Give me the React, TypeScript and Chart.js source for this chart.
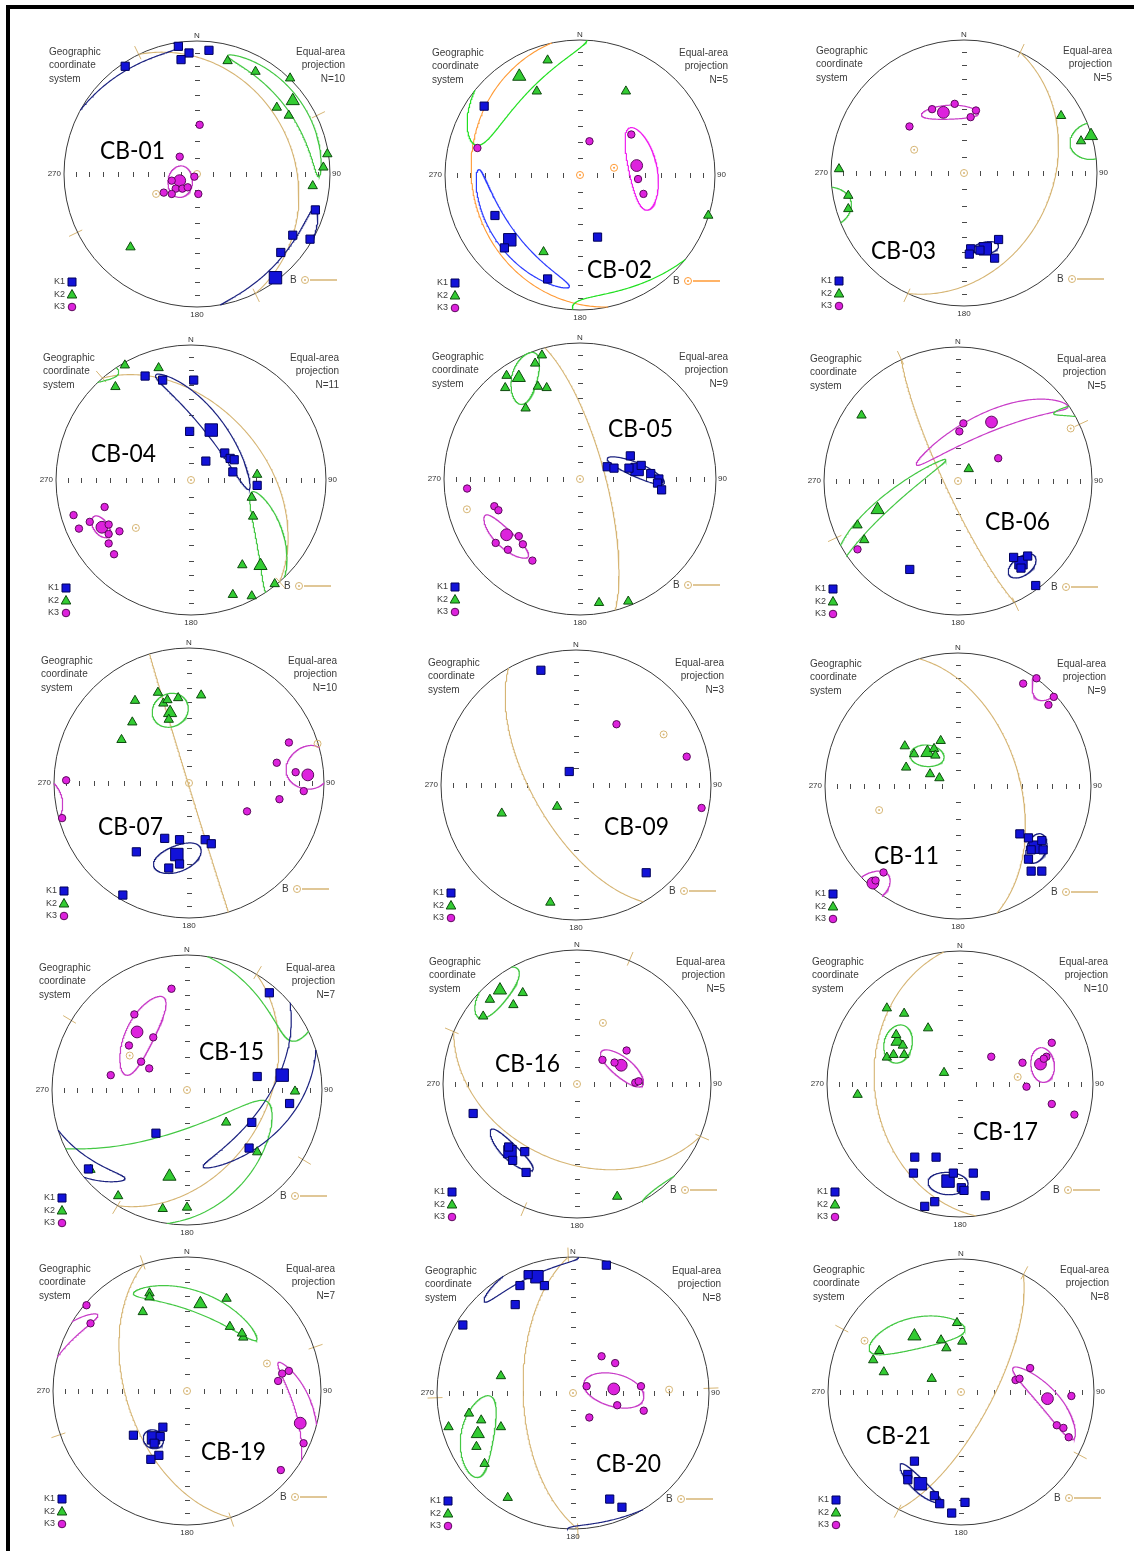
import React, { useEffect, useRef } from "react";
import { Chart, registerables } from "chart.js";
Chart.register(...registerables);

type P = [number, number];
type E = [number, number, number, number, number] | null; // end A (x,y), end B (x,y), minor semi-angle (deg)

// ---------- data (equal-area projection coordinates, x = East, y = North, radius 1) ----------
const CB01_K1: P[] = [[-0.14,0.96],[0.09,0.93],[-0.06,0.91],[-0.12,0.86],[-0.54,0.81],[0.89,-0.27],[0.72,-0.46],[0.85,-0.49],[0.63,-0.59]];
const CB01_K2: P[] = [[0.23,0.85],[0.44,0.77],[0.70,0.72],[0.60,0.50],[0.69,0.44],[0.98,0.15],[0.95,0.05],[0.87,-0.09],[-0.50,-0.55]];
const CB01_K3: P[] = [[0.02,0.37],[-0.13,0.13],[-0.19,-0.05],[-0.02,-0.02],[-0.16,-0.11],[-0.11,-0.11],[-0.07,-0.10],[-0.25,-0.14],[-0.19,-0.15],[0.01,-0.15]];
const CB01_MEAN: P[] = [[0.59,-0.78],[0.72,0.55],[-0.13,-0.05]];
const CB01_ELL: E[] = [[0.89,-0.25,0.143,-1.02,8],[0.23,0.89,0.915,-0.02,6],[-0.11,0.06,-0.14,-0.175,7.5]];
const CB01_PLANE: P = [64, 28];

const CB02_K1: P[] = [[-0.71,0.51],[-0.63,-0.30],[-0.56,-0.54],[-0.24,-0.77],[0.13,-0.46]];
const CB02_K2: P[] = [[-0.24,0.85],[-0.32,0.62],[0.34,0.62],[-0.27,-0.57],[0.95,-0.30]];
const CB02_K3: P[] = [[-0.76,0.20],[0.07,0.25],[0.38,0.30],[0.43,-0.03],[0.47,-0.14]];
const CB02_MEAN: P[] = [[-0.52,-0.48],[-0.45,0.73],[0.42,0.07]];
const CB02_ELL: E[] = [[-0.75,0.04,-0.08,-0.83,7],[-0.76,0.22,0.05,1.04,17],[0.37,0.35,0.50,-0.26,9]];
const CB02_PLANE: P = [258, 21];

const CB03_K1: P[] = [[0.05,-0.57],[0.04,-0.61],[0.12,-0.58],[0.26,-0.50],[0.23,-0.64]];
const CB03_K2: P[] = [[0.73,0.43],[0.88,0.24],[-0.94,0.03],[-0.87,-0.17],[-0.87,-0.27]];
const CB03_K3: P[] = [[-0.24,0.48],[-0.07,0.52],[0.09,0.47],[0.05,0.42],[-0.41,0.35]];
const CB03_MEAN: P[] = [[0.16,-0.57],[0.955,0.28],[-0.155,0.456]];
const CB03_ELL: E[] = [[0.07,-0.575,0.26,-0.545,4],[0.80,0.20,1.077,0.27,8],[-0.32,0.436,0.11,0.449,4.5]];
const CB03_PLANE: P = [115, 34];

const CB04_K1: P[] = [[-0.34,0.77],[-0.21,0.74],[0.02,0.74],[-0.01,0.36],[0.25,0.20],[0.29,0.16],[0.32,0.15],[0.11,0.14],[0.31,0.06],[0.49,-0.04]];
const CB04_K2: P[] = [[-0.49,0.85],[-0.24,0.83],[-0.56,0.69],[0.49,0.04],[0.45,-0.13],[0.46,-0.27],[0.38,-0.63],[0.62,-0.77],[0.31,-0.85],[0.45,-0.86]];
const CB04_K3: P[] = [[-0.64,-0.20],[-0.87,-0.26],[-0.75,-0.31],[-0.61,-0.33],[-0.83,-0.36],[-0.53,-0.38],[-0.61,-0.40],[-0.61,-0.47],[-0.57,-0.55]];
const CB04_MEAN: P[] = [[0.15,0.37],[0.515,-0.635],[-0.66,-0.35]];
const CB04_ELL: E[] = [[-0.26,0.78,0.43,-0.07,6],[0.45,-0.09,0.60,-0.86,8],[-0.73,-0.28,-0.60,-0.41,5]];
const CB04_PLANE: P = [49, 45];

const CB05_K1: P[] = [[0.37,0.17],[0.20,0.09],[0.25,0.08],[0.36,0.08],[0.45,0.10],[0.52,0.04],[0.58,0.0],[0.57,-0.03],[0.60,-0.08]];
const CB05_K2: P[] = [[-0.28,0.91],[-0.33,0.85],[-0.54,0.76],[-0.31,0.68],[-0.245,0.67],[-0.55,0.67],[-0.40,0.52],[0.14,-0.91],[0.355,-0.90]];
const CB05_K3: P[] = [[-0.83,-0.07],[-0.63,-0.20],[-0.60,-0.23],[-0.45,-0.42],[-0.62,-0.47],[-0.42,-0.48],[-0.53,-0.52],[-0.35,-0.60]];
const CB05_MEAN: P[] = [[0.42,0.07],[-0.45,0.745],[-0.54,-0.41]];
const CB05_ELL: E[] = [[0.20,0.15,0.62,-0.03,4],[-0.36,0.93,-0.42,0.55,7],[-0.70,-0.27,-0.38,-0.57,6]];
const CB05_PLANE: P = [75, 75];

const CB06_K1: P[] = [[0.415,-0.57],[0.52,-0.56],[0.47,-0.65],[-0.36,-0.66],[0.58,-0.78]];
const CB06_K2: P[] = [[-0.72,0.49],[0.08,0.09],[-0.75,-0.33],[-0.70,-0.44]];
const CB06_K3: P[] = [[0.04,0.43],[0.01,0.37],[0.30,0.17],[-0.75,-0.51]];
const CB06_MEAN: P[] = [[0.47,-0.61],[-0.60,-0.215],[0.25,0.44]];
const CB06_ELL: E[] = [[0.44,-0.58,0.52,-0.69,8],[-0.09,0.16,-0.91,-0.64,4],[-0.31,0.12,0.82,0.56,6]];
const CB06_PLANE: P = [245, 82];

const CB07_K1: P[] = [[-0.18,-0.41],[-0.07,-0.42],[0.12,-0.42],[0.165,-0.45],[-0.39,-0.51],[-0.07,-0.60],[-0.15,-0.63],[-0.49,-0.83]];
const CB07_K2: P[] = [[-0.23,0.67],[-0.40,0.61],[-0.08,0.63],[0.09,0.65],[-0.19,0.59],[-0.16,0.615],[-0.15,0.47],[-0.42,0.45],[-0.50,0.32]];
const CB07_K3: P[] = [[0.74,0.30],[0.65,0.15],[0.79,0.08],[0.85,-0.06],[0.67,-0.12],[0.43,-0.21],[-0.91,0.02],[-0.94,-0.26]];
const CB07_MEAN: P[] = [[-0.09,-0.53],[-0.14,0.52],[0.88,0.06]];
const CB07_ELL: E[] = [[0.08,-0.47,-0.255,-0.63,8],[-0.27,0.55,-0.01,0.52,11],[0.72,0.08,1.04,0.15,10]];
const CB07_PLANE: P = [253, 89.5];

const CB09_K1: P[] = [[-0.26,0.85],[-0.05,0.10],[0.52,-0.65]];
const CB09_K2: P[] = [[-0.14,-0.16],[-0.55,-0.21],[-0.19,-0.87]];
const CB09_K3: P[] = [[0.30,0.45],[0.82,0.21],[0.93,-0.17]];
const CB09_MEAN: P[] = [];
const CB09_ELL: E[] = [null, null, null];
const CB09_PLANE: P = [240, 64];

const CB11_K1: P[] = [[0.465,-0.36],[0.53,-0.39],[0.63,-0.41],[0.55,-0.48],[0.64,-0.48],[0.53,-0.55],[0.55,-0.64],[0.63,-0.64]];
const CB11_K2: P[] = [[-0.40,0.30],[-0.33,0.24],[-0.13,0.34],[-0.18,0.28],[-0.17,0.23],[-0.39,0.14],[-0.21,0.09],[-0.14,0.06]];
const CB11_K3: P[] = [[0.49,0.77],[0.59,0.81],[0.72,0.67],[0.68,0.61],[-0.56,-0.65],[-0.62,-0.71]];
const CB11_MEAN: P[] = [[0.58,-0.46],[-0.23,0.25],[-0.64,-0.73]];
const CB11_ELL: E[] = [[0.60,-0.36,0.57,-0.58,6.5],[-0.36,0.24,-0.105,0.21,6.5],[-0.53,-0.66,-0.74,-0.82,6]];
const CB11_PLANE: P = [73, 52];

const CB15_K1: P[] = [[0.61,0.72],[0.52,0.10],[0.76,-0.10],[0.48,-0.24],[-0.23,-0.32],[0.46,-0.43],[-0.73,-0.585]];
const CB15_K2: P[] = [[0.80,-0.01],[0.29,-0.24],[0.52,-0.46],[-0.715,-0.59],[-0.51,-0.785],[-0.18,-0.88],[0.0,-0.87]];
const CB15_K3: P[] = [[-0.115,0.75],[-0.39,0.56],[-0.25,0.39],[-0.43,0.33],[-0.34,0.21],[-0.28,0.16],[-0.565,0.11]];
const CB15_MEAN: P[] = [[0.705,0.11],[-0.13,-0.64],[-0.37,0.43]];
const CB15_ELL: E[] = [[0.12,-0.57,0.67,0.955,10],[0.60,-0.09,-1.02,-0.50,28],[-0.18,0.69,-0.45,0.11,9]];
const CB15_PLANE: P = [121, 41];

const CB16_K1: P[] = [[-0.775,-0.22],[-0.51,-0.47],[-0.39,-0.505],[-0.48,-0.57],[-0.38,-0.66]];
const CB16_K2: P[] = [[-0.405,0.68],[-0.65,0.63],[-0.475,0.59],[-0.70,0.505],[0.30,-0.84]];
const CB16_K3: P[] = [[0.37,0.25],[0.19,0.18],[0.28,0.16],[0.435,0.01],[0.46,0.02]];
const CB16_MEAN: P[] = [[-0.50,-0.505],[-0.575,0.70],[0.33,0.14]];
const CB16_ELL: E[] = [[-0.33,-0.64,-0.64,-0.34,5.5],[-0.71,0.49,-0.46,0.87,10],[0.18,0.24,0.49,-0.01,6]];
const CB16_PLANE: P = [203, 41];

const CB17_K1: P[] = [[-0.34,-0.55],[-0.18,-0.55],[-0.35,-0.67],[-0.05,-0.67],[0.10,-0.67],[0.01,-0.78],[0.03,-0.80],[0.19,-0.84],[-0.19,-0.885],[-0.265,-0.92]];
const CB17_K2: P[] = [[-0.55,0.57],[-0.42,0.53],[-0.24,0.42],[-0.43,0.29],[-0.48,0.37],[-0.55,0.20],[-0.50,0.22],[-0.42,0.22],[-0.12,0.085],[-0.77,-0.08]];
const CB17_K3: P[] = [[0.69,0.31],[0.235,0.205],[0.65,0.205],[0.47,0.16],[0.63,0.19],[0.50,-0.02],[0.69,-0.15],[0.86,-0.23]];
const CB17_MEAN: P[] = [[-0.09,-0.73],[-0.47,0.32],[0.605,0.15]];
const CB17_ELL: E[] = [[-0.24,-0.74,0.06,-0.74,8],[-0.45,0.444,-0.47,0.158,9],[0.616,0.273,0.616,0.013,8]];
const CB17_PLANE: P = [263, 36];

const CB19_K1: P[] = [[-0.18,-0.27],[-0.40,-0.33],[-0.20,-0.34],[-0.245,-0.39],[-0.21,-0.48],[-0.27,-0.51]];
const CB19_K2: P[] = [[-0.28,0.73],[-0.28,0.70],[-0.33,0.59],[0.295,0.69],[0.32,0.48],[0.42,0.40],[0.41,0.43]];
const CB19_K3: P[] = [[-0.75,0.64],[-0.72,0.505],[0.76,0.15],[0.71,0.13],[0.68,0.075],[0.87,-0.39],[0.70,-0.59]];
const CB19_MEAN: P[] = [[-0.25,-0.35],[0.10,0.65],[0.845,-0.24]];
const CB19_ELL: E[] = [[-0.25,-0.29,-0.25,-0.43,6],[-0.40,0.73,0.52,0.38,7],[0.68,0.21,0.85,-0.72,6]];
const CB19_PLANE: P = [251, 53];

const CB20_K1: P[] = [[0.245,0.94],[-0.33,0.87],[-0.39,0.79],[-0.21,0.79],[-0.425,0.65],[-0.81,0.50],[0.27,-0.78],[0.36,-0.84]];
const CB20_K2: P[] = [[-0.53,0.125],[-0.765,-0.15],[-0.675,-0.20],[-0.915,-0.25],[-0.53,-0.25],[-0.71,-0.395],[-0.65,-0.52],[-0.48,-0.77]];
const CB20_K3: P[] = [[0.21,0.27],[0.31,0.22],[0.10,0.05],[0.50,0.05],[0.325,-0.09],[0.12,-0.18],[0.52,-0.13]];
const CB20_MEAN: P[] = [[-0.265,0.855],[-0.70,-0.30],[0.30,0.03]];
const CB20_ELL: E[] = [[-0.65,0.67,0.04,1.0,6],[-0.595,-0.03,-0.73,-0.615,10],[0.52,-0.04,0.08,0.075,9.5]];
const CB20_PLANE: P = [268, 60];

const CB21_K1: P[] = [[-0.35,-0.52],[-0.40,-0.62],[-0.40,-0.66],[-0.20,-0.78],[-0.16,-0.84],[0.03,-0.83],[-0.07,-0.91]];
const CB21_K2: P[] = [[-0.03,0.52],[-0.15,0.39],[0.01,0.38],[-0.11,0.33],[-0.615,0.31],[-0.66,0.24],[-0.58,0.15],[-0.22,0.10]];
const CB21_K3: P[] = [[0.52,0.18],[0.41,0.09],[0.44,0.10],[0.83,-0.03],[0.72,-0.25],[0.77,-0.27],[0.81,-0.34]];
const CB21_MEAN: P[] = [[-0.305,-0.69],[-0.35,0.42],[0.65,-0.05]];
const CB21_ELL: E[] = [[-0.45,-0.54,-0.155,-0.83,4.5],[0.03,0.47,-0.69,0.32,10],[0.39,0.18,0.85,-0.35,6]];
const CB21_PLANE: P = [118, 71];

const PLUNGE_TICKS = [10, 20, 30, 40, 50, 60, 70, 80];
const AXIS_LABELS = ["N", "90", "180", "270"];
const LEFT_TEXT = ["Geographic", "coordinate", "system"];
const RIGHT_TEXT = ["Equal-area", "projection"];
const LEGEND = ["K1", "K2", "K3"];

// ---------- panel layout (ticks: rim marks of the plane; 4 = strike & dip, 2 = strike only, 0 = none) ----------
const PANELS = [
  { name: "CB-01", n: 10, k1: CB01_K1, k2: CB01_K2, k3: CB01_K3, mean: CB01_MEAN, ell: CB01_ELL, plane: CB01_PLANE, cx: 197, cy: 174, R: 133, lx: 100, ly: 159, ticks: 4, center: true, bright: false },
  { name: "CB-02", n: 5, k1: CB02_K1, k2: CB02_K2, k3: CB02_K3, mean: CB02_MEAN, ell: CB02_ELL, plane: CB02_PLANE, cx: 580, cy: 175, R: 135, lx: 587, ly: 278, ticks: 0, center: true, bright: true },
  { name: "CB-03", n: 5, k1: CB03_K1, k2: CB03_K2, k3: CB03_K3, mean: CB03_MEAN, ell: CB03_ELL, plane: CB03_PLANE, cx: 964, cy: 173, R: 133, lx: 871, ly: 259, ticks: 2, center: true, bright: false },
  { name: "CB-04", n: 11, k1: CB04_K1, k2: CB04_K2, k3: CB04_K3, mean: CB04_MEAN, ell: CB04_ELL, plane: CB04_PLANE, cx: 191, cy: 480, R: 135, lx: 91, ly: 462, ticks: 2, center: true, bright: false },
  { name: "CB-05", n: 9, k1: CB05_K1, k2: CB05_K2, k3: CB05_K3, mean: CB05_MEAN, ell: CB05_ELL, plane: CB05_PLANE, cx: 580, cy: 479, R: 136, lx: 608, ly: 437, ticks: 0, center: true, bright: false },
  { name: "CB-06", n: 5, k1: CB06_K1, k2: CB06_K2, k3: CB06_K3, mean: CB06_MEAN, ell: CB06_ELL, plane: CB06_PLANE, cx: 958, cy: 481, R: 134, lx: 985, ly: 530, ticks: 4, center: true, bright: false },
  { name: "CB-07", n: 10, k1: CB07_K1, k2: CB07_K2, k3: CB07_K3, mean: CB07_MEAN, ell: CB07_ELL, plane: CB07_PLANE, cx: 189, cy: 783, R: 135, lx: 98, ly: 835, ticks: 0, center: true, bright: false },
  { name: "CB-09", n: 3, k1: CB09_K1, k2: CB09_K2, k3: CB09_K3, mean: CB09_MEAN, ell: CB09_ELL, plane: CB09_PLANE, cx: 576, cy: 785, R: 135, lx: 604, ly: 835, ticks: 0, center: false, bright: false },
  { name: "CB-11", n: 9, k1: CB11_K1, k2: CB11_K2, k3: CB11_K3, mean: CB11_MEAN, ell: CB11_ELL, plane: CB11_PLANE, cx: 958, cy: 786, R: 133, lx: 874, ly: 864, ticks: 0, center: false, bright: false },
  { name: "CB-15", n: 7, k1: CB15_K1, k2: CB15_K2, k3: CB15_K3, mean: CB15_MEAN, ell: CB15_ELL, plane: CB15_PLANE, cx: 187, cy: 1090, R: 135, lx: 199, ly: 1060, ticks: 4, center: true, bright: false },
  { name: "CB-16", n: 5, k1: CB16_K1, k2: CB16_K2, k3: CB16_K3, mean: CB16_MEAN, ell: CB16_ELL, plane: CB16_PLANE, cx: 577, cy: 1084, R: 134, lx: 495, ly: 1072, ticks: 4, center: true, bright: false },
  { name: "CB-17", n: 10, k1: CB17_K1, k2: CB17_K2, k3: CB17_K3, mean: CB17_MEAN, ell: CB17_ELL, plane: CB17_PLANE, cx: 960, cy: 1084, R: 133, lx: 973, ly: 1140, ticks: 0, center: false, bright: false },
  { name: "CB-19", n: 7, k1: CB19_K1, k2: CB19_K2, k3: CB19_K3, mean: CB19_MEAN, ell: CB19_ELL, plane: CB19_PLANE, cx: 187, cy: 1391, R: 134, lx: 201, ly: 1460, ticks: 4, center: true, bright: false },
  { name: "CB-20", n: 8, k1: CB20_K1, k2: CB20_K2, k3: CB20_K3, mean: CB20_MEAN, ell: CB20_ELL, plane: CB20_PLANE, cx: 573, cy: 1393, R: 136, lx: 596, ly: 1472, ticks: 4, center: true, bright: false },
  { name: "CB-21", n: 8, k1: CB21_K1, k2: CB21_K2, k3: CB21_K3, mean: CB21_MEAN, ell: CB21_ELL, plane: CB21_PLANE, cx: 961, cy: 1392, R: 133, lx: 866, ly: 1444, ticks: 4, center: true, bright: false },
];

// ---------- styles ----------
const CW = 380, CH = 305, OX = 190, OY = 150;
const FILL = ["#1212d8", "#33cc33", "#dd22dd"];
const EDGE = ["#00005a", "#0e4a0e", "#5a0a5a"];
const ELL_DULL = ["#1c2380", "#44c844", "#c83cc8"];
const ELL_BRIGHT = ["#2c3cff", "#22e022", "#f020f0"];
const TAN = "#d6b574";
const ORANGE = "#ff9a35";
const STYLE = ["rect", "triangle", "circle"];
const RAD = [5.8, 5.4, 3.7];
const RAD_MEAN = [8.8, 7.6, 5.9];
const SMALL_FONT = '"Liberation Sans", Arial, sans-serif';

// ---------- spherical helpers (lower-hemisphere equal-area) ----------
type V = [number, number, number]; // north, east, down
const D2R = Math.PI / 180;
const norm = (v: V): V => { const l = Math.hypot(v[0], v[1], v[2]); return [v[0] / l, v[1] / l, v[2] / l]; };
const dot = (a: V, b: V) => a[0] * b[0] + a[1] * b[1] + a[2] * b[2];
const cross = (a: V, b: V): V => [a[1] * b[2] - a[2] * b[1], a[2] * b[0] - a[0] * b[2], a[0] * b[1] - a[1] * b[0]];
const fromTP = (t: number, p: number): V => [Math.cos(p * D2R) * Math.cos(t * D2R), Math.cos(p * D2R) * Math.sin(t * D2R), Math.sin(p * D2R)];
const unproject = (x: number, y: number): V => { const r2 = x * x + y * y; const d = 1 - r2; const s = Math.sqrt(Math.max(0, 1 + d)); return norm([y * s, x * s, d]); };
const project = (v: V) => { let [n, e, d] = v; if (d < 0) { n = -n; e = -e; d = -d; } const s = Math.sqrt(1 + d); return { x: e / s, y: n / s }; };

function curveSegments(f: (t: number) => V, t0: number, t1: number, steps: number, closed: boolean) {
  const segs: { x: number; y: number }[][] = [];
  let cur: { x: number; y: number }[] = [];
  let prevT = t0, prevV = f(t0);
  cur.push(project(prevV));
  for (let i = 1; i <= steps; i++) {
    const t = t0 + ((t1 - t0) * i) / steps;
    const v = f(t);
    if ((prevV[2] >= 0) !== (v[2] >= 0)) {
      let lo = prevT, hi = t;
      for (let k = 0; k < 30; k++) { const m = (lo + hi) / 2; const vm = f(m); if ((vm[2] >= 0) === (prevV[2] >= 0)) lo = m; else hi = m; }
      const vc = f((lo + hi) / 2);
      const h = Math.hypot(vc[0], vc[1]);
      const sg = prevV[2] >= 0 ? 1 : -1;
      cur.push({ x: (sg * vc[1]) / h, y: (sg * vc[0]) / h });
      segs.push(cur);
      cur = [{ x: (-sg * vc[1]) / h, y: (-sg * vc[0]) / h }];
    }
    cur.push(project(v));
    prevT = t; prevV = v;
  }
  segs.push(cur);
  if (closed && segs.length > 1) {
    const last = segs.pop()!;
    segs[0] = last.concat(segs[0].slice(1));
  }
  return segs.filter((s) => s.length > 1);
}

function ellipseSegments(e: [number, number, number, number, number]) {
  const [ax, ay, bx, by, w] = e;
  const A = unproject(ax, ay), B = unproject(bx, by);
  const D = norm([A[0] + B[0], A[1] + B[1], A[2] + B[2]]);
  const half = Math.acos(Math.min(1, Math.max(-1, dot(A, B)))) / 2;
  const k = dot(A, D);
  const U = norm([A[0] - k * D[0], A[1] - k * D[1], A[2] - k * D[2]]);
  const W = cross(D, U);
  const ta = Math.tan(half), tb = Math.tan(w * D2R);
  const f = (t: number): V => norm([
    D[0] + ta * Math.cos(t) * U[0] + tb * Math.sin(t) * W[0],
    D[1] + ta * Math.cos(t) * U[1] + tb * Math.sin(t) * W[1],
    D[2] + ta * Math.cos(t) * U[2] + tb * Math.sin(t) * W[2],
  ]);
  return curveSegments(f, 0, 2 * Math.PI, 360, true);
}

function planeSegments(dd: number, dip: number) {
  const S = fromTP(dd - 90, 0), Dv = fromTP(dd, dip);
  const f = (t: number): V => [Math.cos(t) * S[0] + Math.sin(t) * Dv[0], Math.cos(t) * S[1] + Math.sin(t) * Dv[1], Math.max(0, Math.cos(t) * S[2] + Math.sin(t) * Dv[2])];
  return curveSegments(f, 0, Math.PI, 180, false);
}

function drawMarker(ctx: CanvasRenderingContext2D, kind: number, x: number, y: number) {
  ctx.fillStyle = FILL[kind]; ctx.strokeStyle = EDGE[kind]; ctx.lineWidth = 1;
  ctx.beginPath();
  if (kind === 0) ctx.rect(x - 4, y - 4, 8, 8);
  else if (kind === 1) { ctx.moveTo(x, y - 5); ctx.lineTo(x + 4.8, y + 3.5); ctx.lineTo(x - 4.8, y + 3.5); ctx.closePath(); }
  else ctx.arc(x, y, 3.8, 0, 2 * Math.PI);
  ctx.fill(); ctx.stroke();
}

function makePlugin(cfg: any) {
  const tickCol = cfg.bright ? ORANGE : TAN;
  return {
    id: "stereo",
    beforeDatasetsDraw(chart: any) {
      const ctx: CanvasRenderingContext2D = chart.ctx;
      const xs = chart.scales.x, ys = chart.scales.y;
      const X = (v: number) => xs.getPixelForValue(v), Y = (v: number) => ys.getPixelForValue(v);
      const cx = X(0), cy = Y(0), R = X(1) - cx;
      ctx.save();
      // rim ticks of the plane (strike ends, and dip direction)
      if (cfg.ticks > 0) {
        ctx.strokeStyle = tickCol; ctx.lineWidth = 1;
        ctx.beginPath();
        for (let q = 0; q < 4; q++) {
          if (cfg.ticks === 2 && q % 2 === 0) continue;
          const az = (cfg.plane[0] + 90 * q) * D2R;
          ctx.moveTo(X(0.96 * Math.sin(az)), Y(0.96 * Math.cos(az)));
          ctx.lineTo(X(1.07 * Math.sin(az)), Y(1.07 * Math.cos(az)));
        }
        ctx.stroke();
      }
      // primitive circle
      ctx.strokeStyle = "#3a3a3a"; ctx.lineWidth = 1;
      ctx.beginPath(); ctx.arc(cx, cy, R, 0, 2 * Math.PI); ctx.stroke();
      // axis ticks
      ctx.strokeStyle = "#4a4a4a";
      ctx.beginPath();
      for (const p of PLUNGE_TICKS) {
        const r = Math.SQRT2 * Math.sin(((90 - p) / 2) * D2R);
        for (const s of [-1, 1]) {
          const px = Math.round(X(s * r)) + 0.5;
          ctx.moveTo(px, Math.round(cy) - 2); ctx.lineTo(px, Math.round(cy) + 3);
          const py = Math.round(Y(s * r)) + 0.5;
          ctx.moveTo(Math.round(cx) - 2, py); ctx.lineTo(Math.round(cx) + 3, py);
        }
      }
      ctx.stroke();
      // axis labels
      ctx.fillStyle = "#333"; ctx.font = `8px ${SMALL_FONT}`; ctx.textBaseline = "middle";
      ctx.textAlign = "center";
      ctx.fillText(AXIS_LABELS[0], cx, cy - R - 5);
      ctx.fillText(AXIS_LABELS[2], cx, cy + R + 8);
      ctx.textAlign = "right"; ctx.fillText(AXIS_LABELS[3], cx - R - 3, cy);
      ctx.textAlign = "left"; ctx.fillText(AXIS_LABELS[1], cx + R + 2, cy);
      // corner texts
      ctx.fillStyle = "#3c3c3c"; ctx.font = `10px ${SMALL_FONT}`;
      ctx.textAlign = "left";
      LEFT_TEXT.forEach((t, i) => ctx.fillText(t, cx - 148, cy - 122 + i * 13.5));
      ctx.textAlign = "right";
      [...RIGHT_TEXT, `N=${cfg.n}`].forEach((t, i) => ctx.fillText(t, cx + 148, cy - 122 + i * 13.5));
      // legend
      ctx.font = `9px ${SMALL_FONT}`; ctx.textAlign = "left";
      LEGEND.forEach((t, i) => {
        ctx.fillStyle = "#3c3c3c";
        ctx.fillText(t, cx - 143, cy + 108 + i * 12.5);
        drawMarker(ctx, i, cx - 125, cy + 108 + i * 12.5);
      });
      ctx.fillStyle = "#3c3c3c"; ctx.font = `10px ${SMALL_FONT}`;
      ctx.fillText("B", cx + 93, cy + 106);
      ctx.strokeStyle = tickCol; ctx.lineWidth = 1;
      ctx.beginPath(); ctx.arc(cx + 108, cy + 106, 3.5, 0, 2 * Math.PI); ctx.stroke();
      ctx.fillStyle = tickCol; ctx.beginPath(); ctx.arc(cx + 108, cy + 106, 1, 0, 2 * Math.PI); ctx.fill();
      ctx.lineWidth = 1.5; ctx.beginPath(); ctx.moveTo(cx + 113, cy + 106); ctx.lineTo(cx + 140, cy + 106); ctx.stroke();
      ctx.restore();
    },
    afterDatasetsDraw(chart: any) {
      const ctx: CanvasRenderingContext2D = chart.ctx;
      const x0 = cfg.lx - (cfg.cx - OX), y0 = cfg.ly - (cfg.cy - OY);
      ctx.save();
      ctx.font = "25px Lato, Carlito, sans-serif";
      ctx.fillStyle = "#000"; ctx.textBaseline = "alphabetic"; ctx.textAlign = "left";
      const w = ctx.measureText(cfg.name).width;
      ctx.translate(x0, y0); ctx.scale(65 / w, 1);
      ctx.fillText(cfg.name, 0, 0);
      ctx.restore();
    },
  };
}

function buildConfig(cfg: any) {
  const ellCol = cfg.bright ? ELL_BRIGHT : ELL_DULL;
  const planeCol = cfg.bright ? ORANGE : TAN;
  const datasets: any[] = [];
  const toXY = (arr: P[]) => arr.map(([x, y]) => ({ x, y }));
  // plane great circle
  for (const seg of planeSegments(cfg.plane[0], cfg.plane[1]))
    datasets.push({ data: seg, showLine: true, pointRadius: 0, borderColor: planeCol, borderWidth: 1.1, order: 3, clip: false });
  // confidence ellipses
  cfg.ell.forEach((e: E, i: number) => {
    if (!e) return;
    for (const seg of ellipseSegments(e))
      datasets.push({ data: seg, showLine: true, pointRadius: 0, borderColor: ellCol[i], borderWidth: 1.2, order: 2, clip: false });
  });
  // pole of the plane and vertical
  const pole = project(fromTP(cfg.plane[0] + 180, 90 - cfg.plane[1]));
  const bPts = cfg.center ? [pole, { x: 0, y: 0 }] : [pole];
  datasets.push({ data: bPts, pointStyle: "circle", pointRadius: 3.5, backgroundColor: "rgba(0,0,0,0)", borderColor: planeCol, borderWidth: 1, order: 1, clip: false });
  datasets.push({ data: bPts, pointStyle: "circle", pointRadius: 1, backgroundColor: planeCol, borderColor: planeCol, borderWidth: 0, order: 1, clip: false });
  // specimen axes and means
  [cfg.k1, cfg.k2, cfg.k3].forEach((arr: P[], i: number) => {
    datasets.push({ data: toXY(arr), pointStyle: STYLE[i], pointRadius: RAD[i], backgroundColor: FILL[i], borderColor: EDGE[i], borderWidth: 1, order: 0, clip: false });
    if (cfg.mean[i])
      datasets.push({ data: toXY([cfg.mean[i]]), pointStyle: STYLE[i], pointRadius: RAD_MEAN[i], backgroundColor: FILL[i], borderColor: EDGE[i], borderWidth: 1, order: 0, clip: false });
  });
  return {
    type: "scatter",
    data: { datasets },
    options: {
      responsive: false,
      animation: false,
      events: [],
      layout: { padding: { left: OX - cfg.R, right: CW - OX - cfg.R, top: OY - cfg.R, bottom: CH - OY - cfg.R } },
      scales: {
        x: { type: "linear", min: -1, max: 1, display: false },
        y: { type: "linear", min: -1, max: 1, display: false },
      },
      plugins: { legend: { display: false }, tooltip: { enabled: false } },
    },
    plugins: [makePlugin(cfg)],
  };
}

function Panel({ cfg }: { cfg: any }) {
  const ref = useRef<HTMLCanvasElement>(null);
  useEffect(() => {
    const chart = new Chart(ref.current as HTMLCanvasElement, buildConfig(cfg) as any);
    return () => chart.destroy();
  }, [cfg]);
  return <canvas ref={ref} width={CW} height={CH} style={{ position: "absolute", left: cfg.cx - OX, top: cfg.cy - OY }} />;
}

export default function App() {
  return (
    <div style={{ position: "absolute", left: 0, top: 0, width: 1134, height: 1551, background: "#fff", overflow: "hidden" }}>
      <div style={{ position: "absolute", left: 6, top: 5, width: 1128, height: 4, background: "#000" }} />
      <div style={{ position: "absolute", left: 6, top: 5, width: 4, height: 1546, background: "#000" }} />
      {PANELS.map((p) => (
        <Panel key={p.name} cfg={p} />
      ))}
    </div>
  );
}
